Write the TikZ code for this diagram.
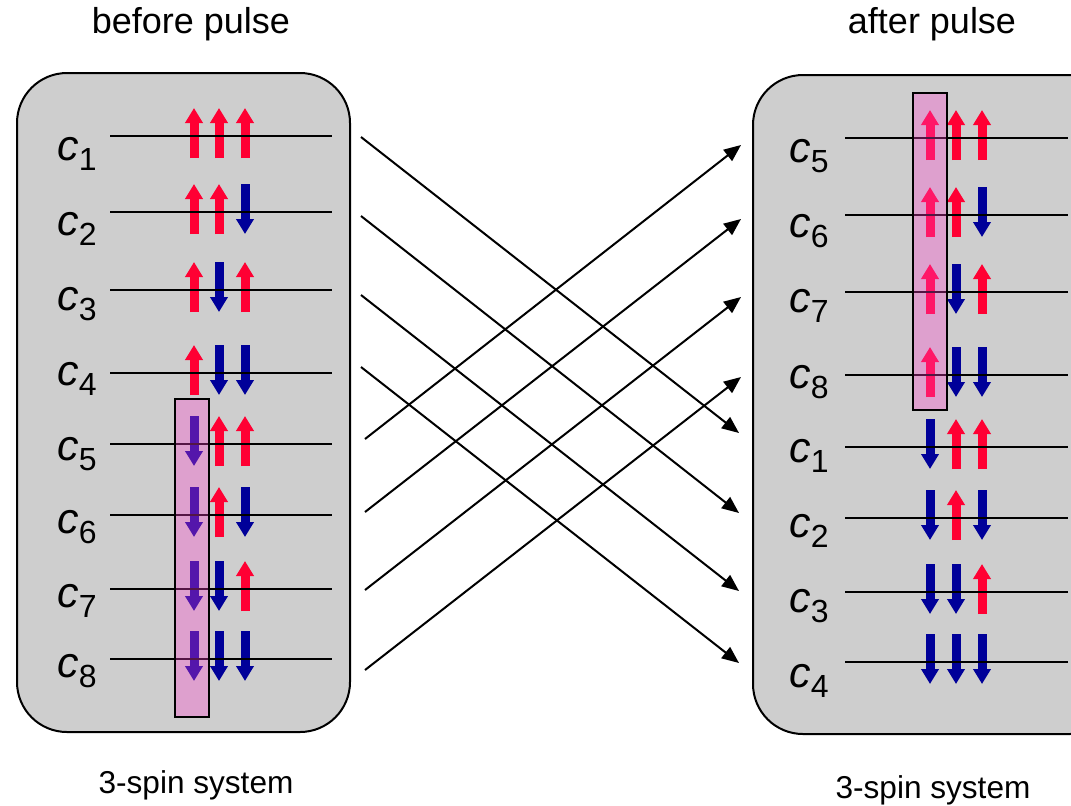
\documentclass[tikz,border=0pt]{standalone}
\usepackage{fontspec}
\setmainfont{Liberation Sans}
\usetikzlibrary{arrows.meta}
\definecolor{spinred}{RGB}{255,0,51}
\definecolor{spinblue}{RGB}{0,0,153}
\definecolor{boxgrey}{RGB}{206,206,206}
\definecolor{pulsepink}{RGB}{255,68,209}

% level name with a lowered index
\newcommand{\lvl}[1]{\textit{c}\raisebox{-5pt}{\fontsize{16}{16}\selectfont #1}}

\begin{document}
\begin{tikzpicture}[x=0.5pt,y=-0.5pt]

\tikzset{spinarrow/.style={line width=4.5pt,-{Triangle[length=7.5pt,width=8.5pt]}},
pics/spinu/.style={code={\draw[spinarrow,spinred] (0,22) -- (0,-28);}},
pics/spind/.style={code={\draw[spinarrow,spinblue] (0,-28) -- (0,22);}},
sysbox/.style={fill=boxgrey,draw=black,line width=1pt,rounded corners=25pt},
pulsebox/.style={draw=black,line width=0.8pt,fill=pulsepink,fill opacity=0.33},
level/.style={line width=0.8pt},
lab/.style={font=\fontsize{21.5}{21.5}\selectfont,anchor=base west,inner sep=0pt},
title/.style={font=\fontsize{18}{18}\selectfont,anchor=base,inner sep=0pt},
caption/.style={font=\fontsize{15.8}{15.8}\selectfont,anchor=base,inner sep=0pt},
flow/.style={line width=1pt,-{Triangle[length=8.5pt,width=7pt]}}}

\useasboundingbox (0,0) rectangle (1071,805);
\clip (0,0) rectangle (1071,805);

% the two systems
\draw[sysbox] (17,73) rectangle (350,732);
\draw[sysbox] (753,75) rectangle (1120,734);

% levels before the pulse
\foreach \n/\y/\yl/\a/\b/\c in {1/136/160/u/u/u, 2/212/235/u/u/d, 3/290/310/u/d/u, 4/373/385/u/d/d,
  5/444/460/d/u/u, 6/515/533/d/u/d, 7/589/607/d/d/u, 8/659/677/d/d/d}
{
  \pic at (194,\y) {spin\a};
  \pic at (219,\y) {spin\b};
  \pic at (245,\y) {spin\c};
  \draw[level] (110,\y) -- (332,\y);
  \node[lab] (lc\n) at (57,\yl) {\lvl{\n}};
}

% levels after the pulse
\foreach \n/\y/\yl/\a/\b/\c in {5/138/162/u/u/u, 6/215/237/u/u/d, 7/292/312/u/d/u, 8/375/388/u/d/d,
  1/447/462/d/u/u, 2/518/537/d/u/d, 3/592/612/d/d/u, 4/662/687/d/d/d}
{
  \pic at (930,\y) {spin\a};
  \pic at (956,\y) {spin\b};
  \pic at (982,\y) {spin\c};
  \draw[level] (845,\y) -- (1068,\y);
  \node[lab] (rc\n) at (789,\yl) {\lvl{\n}};
}

% flipped spin
\draw[pulsebox] (175,399) rectangle (209,717);
\draw[pulsebox] (913,93) rectangle (947,410);

% mapping
\foreach \n/\ya/\yb in {1/137/433, 2/216/513, 3/295/591, 4/367/663}
  {\coordinate (l\n) at (361,\ya); \coordinate (r\n) at (739,\yb);}
\foreach \n/\ya/\yb in {5/439/145, 6/512/219, 7/590/297, 8/670/377}
  {\coordinate (l\n) at (365,\ya); \coordinate (r\n) at (741,\yb);}
\foreach \n in {1,...,8} \draw[flow] (l\n) -- (r\n);

% titles
\node[title] (before) at (191,33) {before pulse};
\node[title] (after) at (932,33) {after pulse};
\node[caption] (sysl) at (196,793) {3-spin system};
\node[caption] (sysr) at (933,798) {3-spin system};

\end{tikzpicture}
\end{document}
